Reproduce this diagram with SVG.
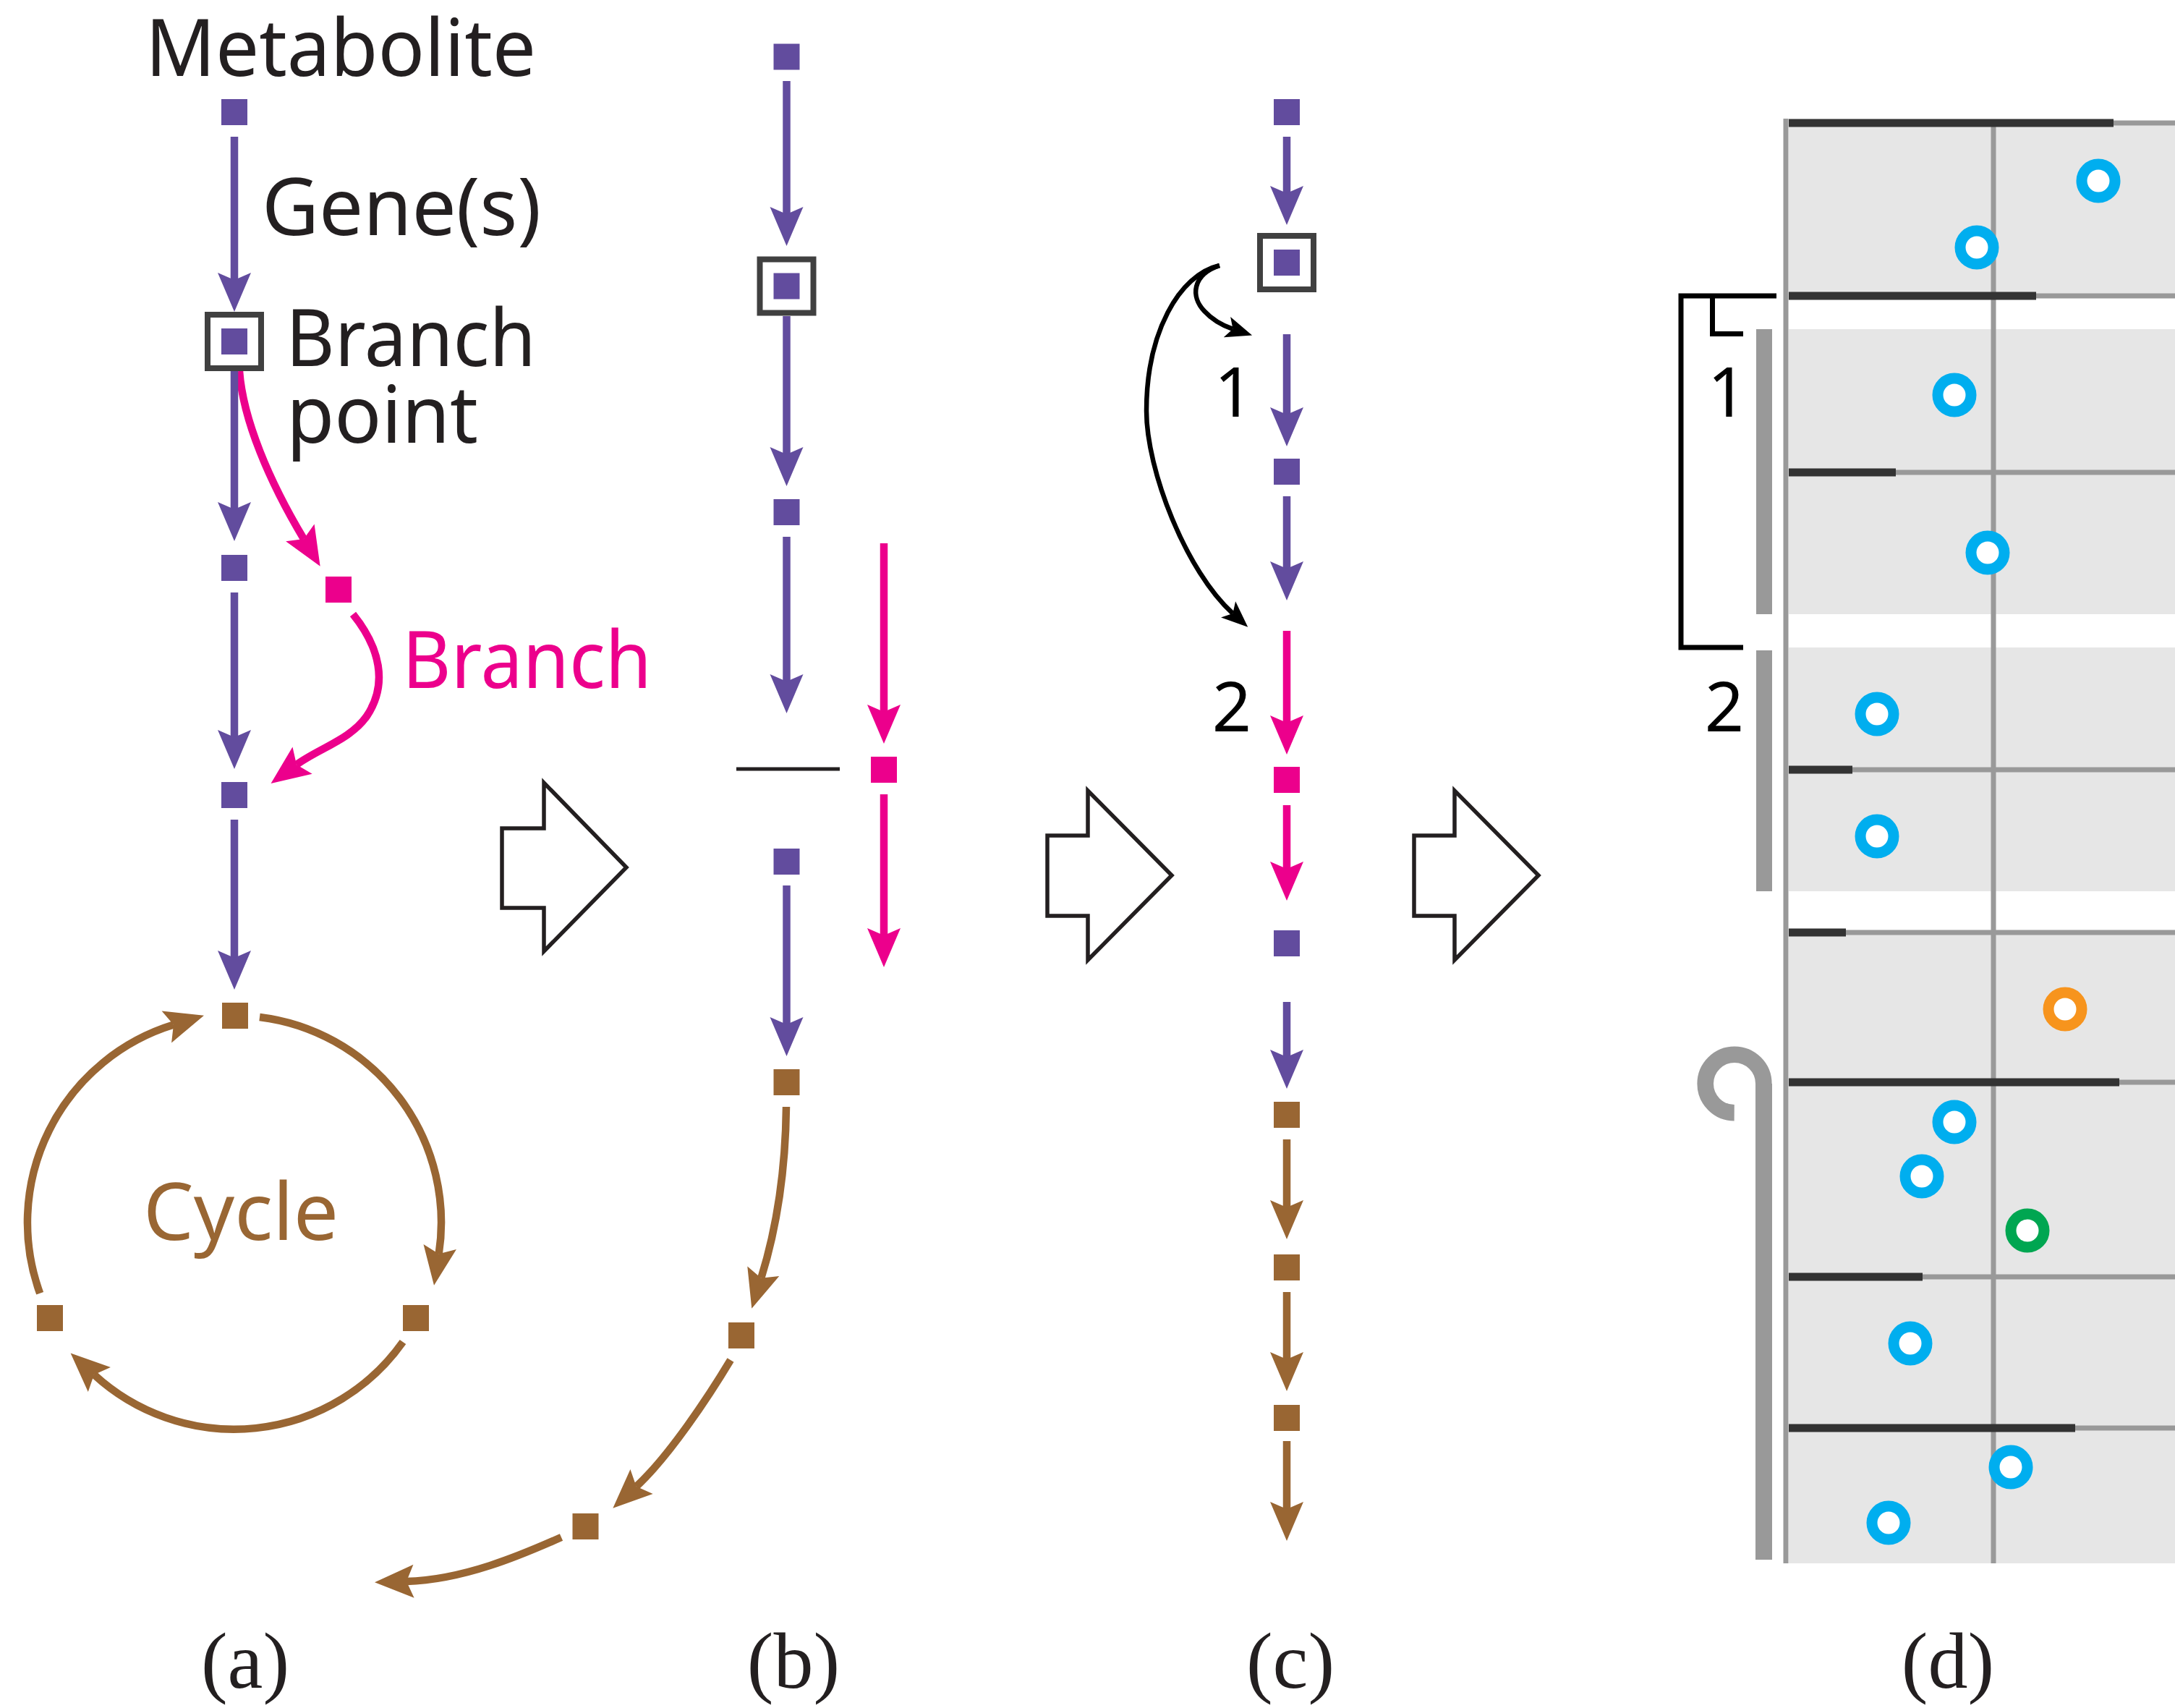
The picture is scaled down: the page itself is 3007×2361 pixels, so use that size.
<svg xmlns="http://www.w3.org/2000/svg" width="3007" height="2361" viewBox="0 0 3007 2361">
<defs>
<style>
.pu{fill:#624c9e}.pk{fill:#ec008c}.br{fill:#996633}
.box{fill:#fff;stroke:#404040;stroke-width:8}
.lpu{stroke:#624c9e;stroke-width:10.5;fill:none}
.lpk{stroke:#ec008c;stroke-width:10.5;fill:none}
.lbr{stroke:#996633;stroke-width:10.5;fill:none}
.lbk{stroke:#000;stroke-width:6.5;fill:none}
.lab{font-family:"Noto Sans","Open Sans",sans-serif;font-size:109px;fill:#231f20}
.num{font-family:"Noto Sans","Open Sans",sans-serif;font-size:95px;fill:#000;text-anchor:middle}
.cap{font-family:"Liberation Serif","Times New Roman",serif;font-size:110px;fill:#231f20;text-anchor:middle}
.blk{fill:#fff;stroke:#231f20;stroke-width:5.5}
.ring{fill:#fff;stroke-width:15}
.gl{stroke:#999;stroke-width:7}
.dl{stroke:#333;stroke-width:11}
.band{fill:#e6e6e6}
.bar{fill:#999}
</style>
<marker id="mpu" markerUnits="userSpaceOnUse" orient="auto" overflow="visible" markerWidth="1" markerHeight="1" refX="0" refY="0"><path d="M44,0 L-10,-23 L0,0 L-10,23 Z" fill="#624c9e"/></marker>
<marker id="mpk" markerUnits="userSpaceOnUse" orient="auto" overflow="visible" markerWidth="1" markerHeight="1" refX="0" refY="0"><path d="M44,0 L-10,-23 L0,0 L-10,23 Z" fill="#ec008c"/></marker>
<marker id="mbr" markerUnits="userSpaceOnUse" orient="auto" overflow="visible" markerWidth="1" markerHeight="1" refX="0" refY="0"><path d="M44,0 L-10,-23 L0,0 L-10,23 Z" fill="#996633"/></marker>
<marker id="mbk" markerUnits="userSpaceOnUse" orient="auto" overflow="visible" markerWidth="1" markerHeight="1" refX="0" refY="0"><path d="M28,0 L-8.5,-15 L0,0 L-8.5,15 Z" fill="#000"/></marker>
</defs>
<rect x="0" y="0" width="3007" height="2361" fill="#fff"/>

<!-- Panel (d) background drawing -->
<g id="panel-d">
<rect class="band" x="2473" y="170" width="534" height="239"/>
<rect class="band" x="2473" y="455" width="534" height="394"/>
<rect class="band" x="2473" y="895" width="534" height="337"/>
<rect class="band" x="2473" y="1289" width="534" height="872"/>
<line class="gl" x1="2756" y1="170" x2="2756" y2="2161"/>
<g>
<line class="gl" x1="2473" y1="170" x2="3007" y2="170"/><line class="dl" x1="2473" y1="170" x2="2922" y2="170"/>
<line class="gl" x1="2473" y1="409" x2="3007" y2="409"/><line class="dl" x1="2473" y1="409" x2="2815" y2="409"/>
<line class="gl" x1="2473" y1="653" x2="3007" y2="653"/><line class="dl" x1="2473" y1="653" x2="2621" y2="653"/>
<line class="gl" x1="2473" y1="1064" x2="3007" y2="1064"/><line class="dl" x1="2473" y1="1064" x2="2561" y2="1064"/>
<line class="gl" x1="2473" y1="1289" x2="3007" y2="1289"/><line class="dl" x1="2473" y1="1289" x2="2552" y2="1289"/>
<line class="gl" x1="2473" y1="1496" x2="3007" y2="1496"/><line class="dl" x1="2473" y1="1496" x2="2930" y2="1496"/>
<line class="gl" x1="2473" y1="1765" x2="3007" y2="1765"/><line class="dl" x1="2473" y1="1765" x2="2658" y2="1765"/>
<line class="gl" x1="2473" y1="1974" x2="3007" y2="1974"/><line class="dl" x1="2473" y1="1974" x2="2869" y2="1974"/>
</g>
<line class="gl" x1="2469" y1="164" x2="2469" y2="2161"/>
<rect class="bar" x="2428" y="455" width="22" height="394"/>
<rect class="bar" x="2428" y="899" width="22" height="333"/>
<rect class="bar" x="2427" y="1498" width="23" height="658"/>
<path d="M2438.3,1498 A40.3,40.3 0 1 0 2397.7,1538.3" fill="none" stroke="#999" stroke-width="22.6"/>
<path d="M2456,409 H2324 V895 H2410" fill="none" stroke="#000" stroke-width="7"/>
<path d="M2367.5,409 V461.5 H2410" fill="none" stroke="#000" stroke-width="7"/>
<text class="num" x="2388" y="576">1</text>
<text class="num" x="2384" y="1011">2</text>
<g id="rings">
<circle class="ring" cx="2901" cy="250" r="23" stroke="#00aeef"/>
<circle class="ring" cx="2733" cy="342" r="23" stroke="#00aeef"/>
<circle class="ring" cx="2702" cy="546" r="23" stroke="#00aeef"/>
<circle class="ring" cx="2748" cy="764" r="23" stroke="#00aeef"/>
<circle class="ring" cx="2595" cy="987" r="23" stroke="#00aeef"/>
<circle class="ring" cx="2595" cy="1156" r="23" stroke="#00aeef"/>
<circle class="ring" cx="2855" cy="1395" r="23" stroke="#f7941d"/>
<circle class="ring" cx="2702" cy="1551" r="23" stroke="#00aeef"/>
<circle class="ring" cx="2657" cy="1626" r="23" stroke="#00aeef"/>
<circle class="ring" cx="2803" cy="1701" r="23" stroke="#00a651"/>
<circle class="ring" cx="2641" cy="1857" r="23" stroke="#00aeef"/>
<circle class="ring" cx="2780" cy="2028" r="23" stroke="#00aeef"/>
<circle class="ring" cx="2611" cy="2105" r="23" stroke="#00aeef"/>
</g>
</g>

<!-- Connectors -->
<g id="connectors">
<!-- panel a -->
<path class="lpk" d="M331,513 C336,580 372,665 420,745" marker-end="url(#mpk)"/>
<path class="lpk" d="M488,849 C525,895 537,945 507,990 C485,1022 440,1035 410,1057" marker-end="url(#mpk)"/>
<path class="lpu" d="M324,189 V387" marker-end="url(#mpu)"/>
<path class="lpu" d="M324,513 V704" marker-end="url(#mpu)"/>
<path class="lpu" d="M324,819 V1019" marker-end="url(#mpu)"/>
<path class="lpu" d="M324,1133 V1324" marker-end="url(#mpu)"/>
<path class="lbr" d="M359,1406 A286,286 0 0 1 606.7,1733.3" marker-end="url(#mbr)"/>
<path class="lbr" d="M557,1855 A286,286 0 0 1 130,1900.2" marker-end="url(#mbr)"/>
<path class="lbr" d="M55.2,1787.8 A286,286 0 0 1 239.9,1416.6" marker-end="url(#mbr)"/>
<!-- panel b -->
<path class="lpu" d="M1087.5,112 V296" marker-end="url(#mpu)"/>
<path class="lpu" d="M1087.5,437 V628" marker-end="url(#mpu)"/>
<path class="lpu" d="M1087.5,742 V942" marker-end="url(#mpu)"/>
<path class="lpk" d="M1222,751 V984" marker-end="url(#mpk)"/>
<path class="lpk" d="M1222,1098 V1293" marker-end="url(#mpk)"/>
<path class="lpu" d="M1087.5,1224 V1416" marker-end="url(#mpu)"/>
<path class="lbr" d="M1087,1530 C1086,1620 1073,1700 1052.3,1766.8" marker-end="url(#mbr)"/>
<path class="lbr" d="M1010,1880 C980,1930 925,2013 879.7,2054.8" marker-end="url(#mbr)"/>
<path class="lbr" d="M776,2125 C720,2150 640,2184 562,2186" marker-end="url(#mbr)"/>
<!-- panel c -->
<path class="lbk" d="M1686,367 C1630,380 1585,460 1585,568 C1585,650 1640,790 1704.4,848" marker-end="url(#mbk)"/>
<path class="lbk" d="M1686,367 C1648,380 1646,410 1665,430 C1677,443 1690,450 1704.5,454.8" marker-end="url(#mbk)"/>
<path class="lpu" d="M1779,189 V267" marker-end="url(#mpu)"/>
<path class="lpu" d="M1779,462 V573" marker-end="url(#mpu)"/>
<path class="lpu" d="M1779,686 V786" marker-end="url(#mpu)"/>
<path class="lpk" d="M1779,872 V999" marker-end="url(#mpk)"/>
<path class="lpk" d="M1779,1113 V1201" marker-end="url(#mpk)"/>
<path class="lpu" d="M1779,1385 V1461" marker-end="url(#mpu)"/>
<path class="lbr" d="M1779,1575 V1669" marker-end="url(#mbr)"/>
<path class="lbr" d="M1779,1786 V1879" marker-end="url(#mbr)"/>
<path class="lbr" d="M1779,1992 V2086" marker-end="url(#mbr)"/>
</g>

<!-- Panel (a) nodes -->
<g id="a-m1"><rect class="pu" x="306" y="137" width="36" height="36"/></g>
<g id="a-bp"><rect class="box" x="287" y="435" width="74" height="74"/><rect class="pu" x="306" y="454" width="36" height="36"/></g>
<g id="a-m3"><rect class="pu" x="306" y="767" width="36" height="36"/></g>
<g id="a-pk"><rect class="pk" x="450" y="797" width="36" height="36"/></g>
<g id="a-m4"><rect class="pu" x="306" y="1081" width="36" height="36"/></g>
<g id="a-c1"><rect class="br" x="307" y="1386" width="36" height="36"/></g>
<g id="a-c2"><rect class="br" x="557" y="1804" width="36" height="36"/></g>
<g id="a-c3"><rect class="br" x="51" y="1804" width="36" height="36"/></g>
<g id="a-labels">
<text class="lab" x="201" y="105" textLength="540" lengthAdjust="spacingAndGlyphs">Metabolite</text>
<text class="lab" x="362" y="325" textLength="386" lengthAdjust="spacingAndGlyphs">Gene(s)</text>
<text class="lab" x="395" y="506" textLength="346" lengthAdjust="spacingAndGlyphs">Branch</text>
<text class="lab" x="396" y="612" textLength="265" lengthAdjust="spacingAndGlyphs">point</text>
<text class="lab" x="556" y="951" textLength="345" lengthAdjust="spacingAndGlyphs" style="fill:#ec008c">Branch</text>
<text class="lab" x="198" y="1714" textLength="270" lengthAdjust="spacingAndGlyphs" style="fill:#996633">Cycle</text>
</g>

<!-- Panel (b) nodes -->
<g id="b-m1"><rect class="pu" x="1069.5" y="60.5" width="36" height="36"/></g>
<g id="b-bp"><rect class="box" x="1050.5" y="358.5" width="74" height="74"/><rect class="pu" x="1069.5" y="377.5" width="36" height="36"/></g>
<g id="b-m3"><rect class="pu" x="1069.5" y="690" width="36" height="36"/></g>
<g id="b-block"><line x1="1018" y1="1063" x2="1161" y2="1063" stroke="#231f20" stroke-width="5"/></g>
<g id="b-pk"><rect class="pk" x="1204" y="1046" width="36" height="36"/></g>
<g id="b-m4"><rect class="pu" x="1069.5" y="1173" width="36" height="36"/></g>
<g id="b-c1"><rect class="br" x="1069.5" y="1478" width="36" height="36"/></g>
<g id="b-c2"><rect class="br" x="1007" y="1828" width="36" height="36"/></g>
<g id="b-c3"><rect class="br" x="791.5" y="2092" width="36" height="36"/></g>

<!-- Panel (c) nodes -->
<g id="c-m1"><rect class="pu" x="1761" y="137" width="36" height="36"/></g>
<g id="c-bp"><rect class="box" x="1742" y="326" width="74" height="74"/><rect class="pu" x="1761" y="345" width="36" height="36"/></g>
<g id="c-m3"><rect class="pu" x="1761" y="634" width="36" height="36"/></g>
<g id="c-pk"><rect class="pk" x="1761" y="1060" width="36" height="36"/></g>
<g id="c-m5"><rect class="pu" x="1761" y="1286" width="36" height="36"/></g>
<g id="c-c1"><rect class="br" x="1761" y="1523" width="36" height="36"/></g>
<g id="c-c2"><rect class="br" x="1761" y="1734" width="36" height="36"/></g>
<g id="c-c3"><rect class="br" x="1761" y="1942" width="36" height="36"/></g>
<g id="c-labels">
<text class="num" x="1706" y="576">1</text>
<text class="num" x="1703" y="1011">2</text>
</g>

<!-- Block arrows -->
<g id="step-arrows">
<polygon class="blk" points="694,1145 752,1145 752,1082 866,1199 752,1315 752,1255 694,1255"/>
<polygon class="blk" points="1448,1155 1504,1155 1504,1093 1620,1210 1504,1327 1504,1266 1448,1266"/>
<polygon class="blk" points="1955,1155 2011,1155 2011,1093 2127,1210 2011,1327 2011,1266 1955,1266"/>
</g>

<!-- Panel captions -->
<g id="captions">
<text class="cap" x="339" y="2333">(a)</text>
<text class="cap" x="1097" y="2333">(b)</text>
<text class="cap" x="1784" y="2333">(c)</text>
<text class="cap" x="2693" y="2333">(d)</text>
</g>
</svg>
